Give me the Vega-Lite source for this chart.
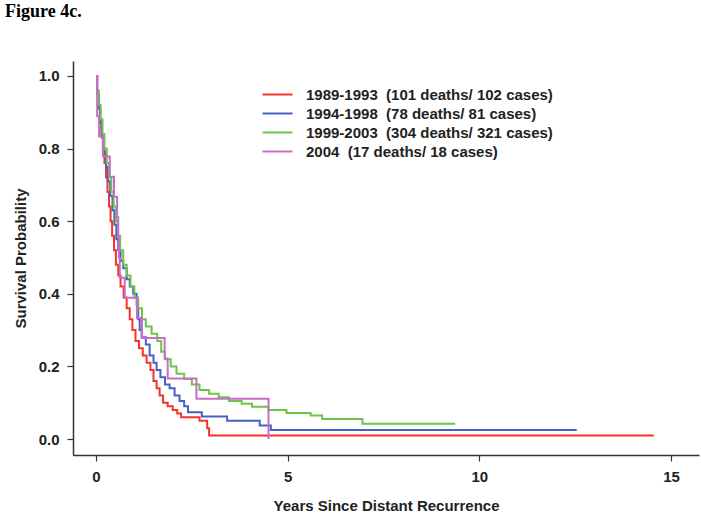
{
  "$schema": "https://vega.github.io/schema/vega-lite/v6.json",
  "width": 626,
  "height": 394,
  "autosize": {"type": "none"},
  "padding": {"left": 73, "top": 61, "right": 2, "bottom": 63},
  "background": "white",
  "title": {
    "text": "Figure 4c.",
    "anchor": "start",
    "frame": "group",
    "orient": "top",
    "font": "Liberation Serif",
    "fontSize": 18,
    "fontWeight": "bold",
    "color": "#000000",
    "offset": 40,
    "dx": -68
  },
  "config": {
    "view": {"stroke": null},
    "axis": {
      "grid": false,
      "domainColor": "#333333",
      "domainWidth": 1.5,
      "tickColor": "#333333",
      "tickWidth": 1.2,
      "tickSize": 6,
      "labelFont": "Liberation Sans",
      "labelFontSize": 15,
      "labelFontWeight": "bold",
      "labelColor": "#222222",
      "titleFont": "Liberation Sans",
      "titleFontSize": 15,
      "titleFontWeight": "bold",
      "titleColor": "#222222"
    }
  },
  "data": {
    "values": [
      {"group": "1989-1993\u00a0\u00a0(101 deaths/ 102 cases)", "t": 0, "s": 1.0},
      {"group": "1989-1993\u00a0\u00a0(101 deaths/ 102 cases)", "t": 0.03, "s": 0.96},
      {"group": "1989-1993\u00a0\u00a0(101 deaths/ 102 cases)", "t": 0.06, "s": 0.92},
      {"group": "1989-1993\u00a0\u00a0(101 deaths/ 102 cases)", "t": 0.1, "s": 0.88},
      {"group": "1989-1993\u00a0\u00a0(101 deaths/ 102 cases)", "t": 0.14, "s": 0.84},
      {"group": "1989-1993\u00a0\u00a0(101 deaths/ 102 cases)", "t": 0.18, "s": 0.8},
      {"group": "1989-1993\u00a0\u00a0(101 deaths/ 102 cases)", "t": 0.22, "s": 0.76},
      {"group": "1989-1993\u00a0\u00a0(101 deaths/ 102 cases)", "t": 0.26, "s": 0.72},
      {"group": "1989-1993\u00a0\u00a0(101 deaths/ 102 cases)", "t": 0.3, "s": 0.68},
      {"group": "1989-1993\u00a0\u00a0(101 deaths/ 102 cases)", "t": 0.34, "s": 0.64},
      {"group": "1989-1993\u00a0\u00a0(101 deaths/ 102 cases)", "t": 0.38, "s": 0.6},
      {"group": "1989-1993\u00a0\u00a0(101 deaths/ 102 cases)", "t": 0.42, "s": 0.56},
      {"group": "1989-1993\u00a0\u00a0(101 deaths/ 102 cases)", "t": 0.47, "s": 0.52},
      {"group": "1989-1993\u00a0\u00a0(101 deaths/ 102 cases)", "t": 0.52, "s": 0.48},
      {"group": "1989-1993\u00a0\u00a0(101 deaths/ 102 cases)", "t": 0.58, "s": 0.45},
      {"group": "1989-1993\u00a0\u00a0(101 deaths/ 102 cases)", "t": 0.64, "s": 0.42},
      {"group": "1989-1993\u00a0\u00a0(101 deaths/ 102 cases)", "t": 0.72, "s": 0.39},
      {"group": "1989-1993\u00a0\u00a0(101 deaths/ 102 cases)", "t": 0.8, "s": 0.36},
      {"group": "1989-1993\u00a0\u00a0(101 deaths/ 102 cases)", "t": 0.88, "s": 0.33},
      {"group": "1989-1993\u00a0\u00a0(101 deaths/ 102 cases)", "t": 0.95, "s": 0.3},
      {"group": "1989-1993\u00a0\u00a0(101 deaths/ 102 cases)", "t": 1.03, "s": 0.27},
      {"group": "1989-1993\u00a0\u00a0(101 deaths/ 102 cases)", "t": 1.12, "s": 0.25},
      {"group": "1989-1993\u00a0\u00a0(101 deaths/ 102 cases)", "t": 1.22, "s": 0.23},
      {"group": "1989-1993\u00a0\u00a0(101 deaths/ 102 cases)", "t": 1.32, "s": 0.21},
      {"group": "1989-1993\u00a0\u00a0(101 deaths/ 102 cases)", "t": 1.42, "s": 0.19},
      {"group": "1989-1993\u00a0\u00a0(101 deaths/ 102 cases)", "t": 1.5, "s": 0.16},
      {"group": "1989-1993\u00a0\u00a0(101 deaths/ 102 cases)", "t": 1.58, "s": 0.14},
      {"group": "1989-1993\u00a0\u00a0(101 deaths/ 102 cases)", "t": 1.66, "s": 0.12},
      {"group": "1989-1993\u00a0\u00a0(101 deaths/ 102 cases)", "t": 1.75, "s": 0.1},
      {"group": "1989-1993\u00a0\u00a0(101 deaths/ 102 cases)", "t": 1.87, "s": 0.09},
      {"group": "1989-1993\u00a0\u00a0(101 deaths/ 102 cases)", "t": 2.0, "s": 0.08},
      {"group": "1989-1993\u00a0\u00a0(101 deaths/ 102 cases)", "t": 2.12, "s": 0.07},
      {"group": "1989-1993\u00a0\u00a0(101 deaths/ 102 cases)", "t": 2.22, "s": 0.06},
      {"group": "1989-1993\u00a0\u00a0(101 deaths/ 102 cases)", "t": 2.7, "s": 0.05},
      {"group": "1989-1993\u00a0\u00a0(101 deaths/ 102 cases)", "t": 2.9, "s": 0.03},
      {"group": "1989-1993\u00a0\u00a0(101 deaths/ 102 cases)", "t": 2.95, "s": 0.01},
      {"group": "1989-1993\u00a0\u00a0(101 deaths/ 102 cases)", "t": 14.55, "s": 0.01},

      {"group": "1994-1998\u00a0\u00a0(78 deaths/ 81 cases)", "t": 0, "s": 1.0},
      {"group": "1994-1998\u00a0\u00a0(78 deaths/ 81 cases)", "t": 0.03, "s": 0.95},
      {"group": "1994-1998\u00a0\u00a0(78 deaths/ 81 cases)", "t": 0.07, "s": 0.91},
      {"group": "1994-1998\u00a0\u00a0(78 deaths/ 81 cases)", "t": 0.11, "s": 0.87},
      {"group": "1994-1998\u00a0\u00a0(78 deaths/ 81 cases)", "t": 0.15, "s": 0.83},
      {"group": "1994-1998\u00a0\u00a0(78 deaths/ 81 cases)", "t": 0.2, "s": 0.79},
      {"group": "1994-1998\u00a0\u00a0(78 deaths/ 81 cases)", "t": 0.26, "s": 0.75},
      {"group": "1994-1998\u00a0\u00a0(78 deaths/ 81 cases)", "t": 0.31, "s": 0.71},
      {"group": "1994-1998\u00a0\u00a0(78 deaths/ 81 cases)", "t": 0.37, "s": 0.67},
      {"group": "1994-1998\u00a0\u00a0(78 deaths/ 81 cases)", "t": 0.43, "s": 0.63},
      {"group": "1994-1998\u00a0\u00a0(78 deaths/ 81 cases)", "t": 0.48, "s": 0.59},
      {"group": "1994-1998\u00a0\u00a0(78 deaths/ 81 cases)", "t": 0.53, "s": 0.55},
      {"group": "1994-1998\u00a0\u00a0(78 deaths/ 81 cases)", "t": 0.58, "s": 0.52},
      {"group": "1994-1998\u00a0\u00a0(78 deaths/ 81 cases)", "t": 0.64, "s": 0.49},
      {"group": "1994-1998\u00a0\u00a0(78 deaths/ 81 cases)", "t": 0.71, "s": 0.47},
      {"group": "1994-1998\u00a0\u00a0(78 deaths/ 81 cases)", "t": 0.8, "s": 0.44},
      {"group": "1994-1998\u00a0\u00a0(78 deaths/ 81 cases)", "t": 0.88, "s": 0.42},
      {"group": "1994-1998\u00a0\u00a0(78 deaths/ 81 cases)", "t": 0.97, "s": 0.4},
      {"group": "1994-1998\u00a0\u00a0(78 deaths/ 81 cases)", "t": 1.06, "s": 0.37},
      {"group": "1994-1998\u00a0\u00a0(78 deaths/ 81 cases)", "t": 1.1, "s": 0.33},
      {"group": "1994-1998\u00a0\u00a0(78 deaths/ 81 cases)", "t": 1.14, "s": 0.3},
      {"group": "1994-1998\u00a0\u00a0(78 deaths/ 81 cases)", "t": 1.19, "s": 0.28},
      {"group": "1994-1998\u00a0\u00a0(78 deaths/ 81 cases)", "t": 1.3, "s": 0.26},
      {"group": "1994-1998\u00a0\u00a0(78 deaths/ 81 cases)", "t": 1.4, "s": 0.23},
      {"group": "1994-1998\u00a0\u00a0(78 deaths/ 81 cases)", "t": 1.5, "s": 0.21},
      {"group": "1994-1998\u00a0\u00a0(78 deaths/ 81 cases)", "t": 1.58, "s": 0.19},
      {"group": "1994-1998\u00a0\u00a0(78 deaths/ 81 cases)", "t": 1.68, "s": 0.17},
      {"group": "1994-1998\u00a0\u00a0(78 deaths/ 81 cases)", "t": 1.8, "s": 0.15},
      {"group": "1994-1998\u00a0\u00a0(78 deaths/ 81 cases)", "t": 1.92, "s": 0.14},
      {"group": "1994-1998\u00a0\u00a0(78 deaths/ 81 cases)", "t": 2.05, "s": 0.12},
      {"group": "1994-1998\u00a0\u00a0(78 deaths/ 81 cases)", "t": 2.18, "s": 0.105},
      {"group": "1994-1998\u00a0\u00a0(78 deaths/ 81 cases)", "t": 2.3, "s": 0.09},
      {"group": "1994-1998\u00a0\u00a0(78 deaths/ 81 cases)", "t": 2.4, "s": 0.074},
      {"group": "1994-1998\u00a0\u00a0(78 deaths/ 81 cases)", "t": 2.76, "s": 0.062},
      {"group": "1994-1998\u00a0\u00a0(78 deaths/ 81 cases)", "t": 3.42, "s": 0.05},
      {"group": "1994-1998\u00a0\u00a0(78 deaths/ 81 cases)", "t": 4.27, "s": 0.037},
      {"group": "1994-1998\u00a0\u00a0(78 deaths/ 81 cases)", "t": 4.56, "s": 0.025},
      {"group": "1994-1998\u00a0\u00a0(78 deaths/ 81 cases)", "t": 12.54, "s": 0.025},

      {"group": "1999-2003\u00a0\u00a0(304 deaths/ 321 cases)", "t": 0, "s": 1.0},
      {"group": "1999-2003\u00a0\u00a0(304 deaths/ 321 cases)", "t": 0.03, "s": 0.96},
      {"group": "1999-2003\u00a0\u00a0(304 deaths/ 321 cases)", "t": 0.07, "s": 0.92},
      {"group": "1999-2003\u00a0\u00a0(304 deaths/ 321 cases)", "t": 0.12, "s": 0.88},
      {"group": "1999-2003\u00a0\u00a0(304 deaths/ 321 cases)", "t": 0.17, "s": 0.84},
      {"group": "1999-2003\u00a0\u00a0(304 deaths/ 321 cases)", "t": 0.22, "s": 0.8},
      {"group": "1999-2003\u00a0\u00a0(304 deaths/ 321 cases)", "t": 0.28, "s": 0.76},
      {"group": "1999-2003\u00a0\u00a0(304 deaths/ 321 cases)", "t": 0.34, "s": 0.72},
      {"group": "1999-2003\u00a0\u00a0(304 deaths/ 321 cases)", "t": 0.4, "s": 0.68},
      {"group": "1999-2003\u00a0\u00a0(304 deaths/ 321 cases)", "t": 0.46, "s": 0.64},
      {"group": "1999-2003\u00a0\u00a0(304 deaths/ 321 cases)", "t": 0.52, "s": 0.6},
      {"group": "1999-2003\u00a0\u00a0(304 deaths/ 321 cases)", "t": 0.57, "s": 0.56},
      {"group": "1999-2003\u00a0\u00a0(304 deaths/ 321 cases)", "t": 0.63, "s": 0.52},
      {"group": "1999-2003\u00a0\u00a0(304 deaths/ 321 cases)", "t": 0.71, "s": 0.48},
      {"group": "1999-2003\u00a0\u00a0(304 deaths/ 321 cases)", "t": 0.8, "s": 0.45},
      {"group": "1999-2003\u00a0\u00a0(304 deaths/ 321 cases)", "t": 0.9, "s": 0.42},
      {"group": "1999-2003\u00a0\u00a0(304 deaths/ 321 cases)", "t": 1.0, "s": 0.39},
      {"group": "1999-2003\u00a0\u00a0(304 deaths/ 321 cases)", "t": 1.1, "s": 0.36},
      {"group": "1999-2003\u00a0\u00a0(304 deaths/ 321 cases)", "t": 1.2, "s": 0.33},
      {"group": "1999-2003\u00a0\u00a0(304 deaths/ 321 cases)", "t": 1.3, "s": 0.31},
      {"group": "1999-2003\u00a0\u00a0(304 deaths/ 321 cases)", "t": 1.45, "s": 0.29},
      {"group": "1999-2003\u00a0\u00a0(304 deaths/ 321 cases)", "t": 1.6, "s": 0.27},
      {"group": "1999-2003\u00a0\u00a0(304 deaths/ 321 cases)", "t": 1.7, "s": 0.24},
      {"group": "1999-2003\u00a0\u00a0(304 deaths/ 321 cases)", "t": 1.8, "s": 0.22},
      {"group": "1999-2003\u00a0\u00a0(304 deaths/ 321 cases)", "t": 1.95, "s": 0.2},
      {"group": "1999-2003\u00a0\u00a0(304 deaths/ 321 cases)", "t": 2.1, "s": 0.18},
      {"group": "1999-2003\u00a0\u00a0(304 deaths/ 321 cases)", "t": 2.3, "s": 0.165},
      {"group": "1999-2003\u00a0\u00a0(304 deaths/ 321 cases)", "t": 2.5, "s": 0.15},
      {"group": "1999-2003\u00a0\u00a0(304 deaths/ 321 cases)", "t": 2.7, "s": 0.135},
      {"group": "1999-2003\u00a0\u00a0(304 deaths/ 321 cases)", "t": 2.95, "s": 0.125},
      {"group": "1999-2003\u00a0\u00a0(304 deaths/ 321 cases)", "t": 3.2, "s": 0.115},
      {"group": "1999-2003\u00a0\u00a0(304 deaths/ 321 cases)", "t": 3.47, "s": 0.105},
      {"group": "1999-2003\u00a0\u00a0(304 deaths/ 321 cases)", "t": 3.8, "s": 0.097},
      {"group": "1999-2003\u00a0\u00a0(304 deaths/ 321 cases)", "t": 4.07, "s": 0.089},
      {"group": "1999-2003\u00a0\u00a0(304 deaths/ 321 cases)", "t": 4.5, "s": 0.08},
      {"group": "1999-2003\u00a0\u00a0(304 deaths/ 321 cases)", "t": 4.97, "s": 0.072},
      {"group": "1999-2003\u00a0\u00a0(304 deaths/ 321 cases)", "t": 5.6, "s": 0.065},
      {"group": "1999-2003\u00a0\u00a0(304 deaths/ 321 cases)", "t": 5.9, "s": 0.055},
      {"group": "1999-2003\u00a0\u00a0(304 deaths/ 321 cases)", "t": 6.95, "s": 0.042},
      {"group": "1999-2003\u00a0\u00a0(304 deaths/ 321 cases)", "t": 9.37, "s": 0.042},

      {"group": "2004\u00a0\u00a0(17 deaths/ 18 cases)", "t": 0, "s": 1.0},
      {"group": "2004\u00a0\u00a0(17 deaths/ 18 cases)", "t": 0.03, "s": 0.889},
      {"group": "2004\u00a0\u00a0(17 deaths/ 18 cases)", "t": 0.08, "s": 0.833},
      {"group": "2004\u00a0\u00a0(17 deaths/ 18 cases)", "t": 0.18, "s": 0.778},
      {"group": "2004\u00a0\u00a0(17 deaths/ 18 cases)", "t": 0.36, "s": 0.722},
      {"group": "2004\u00a0\u00a0(17 deaths/ 18 cases)", "t": 0.47, "s": 0.667},
      {"group": "2004\u00a0\u00a0(17 deaths/ 18 cases)", "t": 0.55, "s": 0.611},
      {"group": "2004\u00a0\u00a0(17 deaths/ 18 cases)", "t": 0.58, "s": 0.556},
      {"group": "2004\u00a0\u00a0(17 deaths/ 18 cases)", "t": 0.6, "s": 0.5},
      {"group": "2004\u00a0\u00a0(17 deaths/ 18 cases)", "t": 0.62, "s": 0.444},
      {"group": "2004\u00a0\u00a0(17 deaths/ 18 cases)", "t": 0.75, "s": 0.389},
      {"group": "2004\u00a0\u00a0(17 deaths/ 18 cases)", "t": 1.07, "s": 0.333},
      {"group": "2004\u00a0\u00a0(17 deaths/ 18 cases)", "t": 1.2, "s": 0.278},
      {"group": "2004\u00a0\u00a0(17 deaths/ 18 cases)", "t": 1.79, "s": 0.222},
      {"group": "2004\u00a0\u00a0(17 deaths/ 18 cases)", "t": 1.87, "s": 0.167},
      {"group": "2004\u00a0\u00a0(17 deaths/ 18 cases)", "t": 2.62, "s": 0.111},
      {"group": "2004\u00a0\u00a0(17 deaths/ 18 cases)", "t": 4.5, "s": 0.0}
    ]
  },
  "mark": {"type": "line", "interpolate": "step-after", "strokeWidth": 2},
  "encoding": {
    "x": {
      "field": "t",
      "type": "quantitative",
      "scale": {"domain": [-0.6, 15.73], "nice": false, "zero": false},
      "axis": {"values": [0, 5, 10, 15], "title": "Years Since Distant Recurrence", "labelPadding": 8, "titlePadding": 14}
    },
    "y": {
      "field": "s",
      "type": "quantitative",
      "scale": {"domain": [-0.044, 1.041], "nice": false, "zero": false},
      "axis": {"values": [0, 0.2, 0.4, 0.6, 0.8, 1.0], "format": ".1f", "title": "Survival Probability", "labelPadding": 8, "titlePadding": 10}
    },
    "color": {
      "field": "group",
      "type": "nominal",
      "sort": null,
      "scale": {
        "domain": ["1989-1993\u00a0\u00a0(101 deaths/ 102 cases)", "1994-1998\u00a0\u00a0(78 deaths/ 81 cases)", "1999-2003\u00a0\u00a0(304 deaths/ 321 cases)", "2004\u00a0\u00a0(17 deaths/ 18 cases)"],
        "range": ["#f5352b", "#4462c4", "#6cc448", "#c66dc6"]
      },
      "legend": {
        "title": null,
        "orient": "none",
        "legendX": 196,
        "legendY": 25,
        "symbolType": "M-2,0H2",
        "symbolSize": 225,
        "symbolStrokeWidth": 2,
        "labelFont": "Liberation Sans",
        "labelFontSize": 15,
        "labelFontWeight": "bold",
        "labelColor": "#222222",
        "labelOffset": 20,
        "rowPadding": 2,
        "labelLimit": 400
      }
    }
  }
}
